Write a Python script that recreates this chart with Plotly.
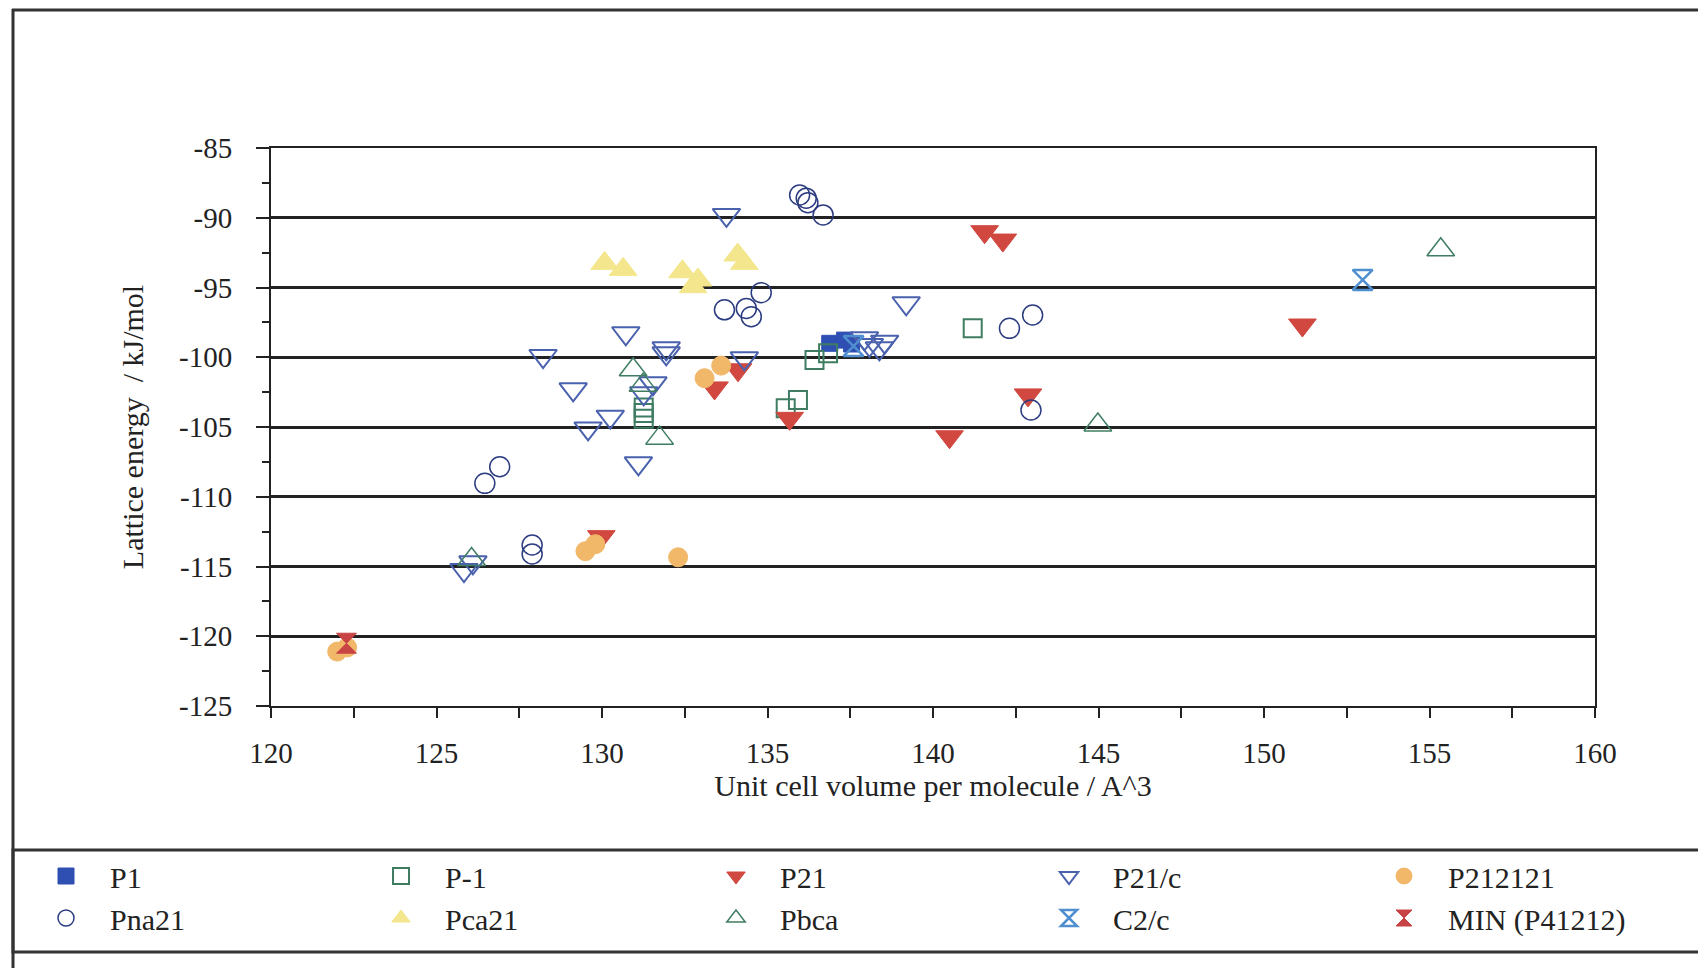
import plotly.graph_objects as go

# ---- data ----
P1_x = [136.88, 137.33, 137.54]
P1_y = [-99.0, -98.77, -99.05]

Pm1_x = [131.26, 131.26, 131.26, 135.55, 135.92, 136.42, 136.83, 141.2]
Pm1_y = [-103.6, -104.0, -104.4, -103.66, -103.06, -100.2, -99.72, -97.93]

P21_x = [129.98, 133.4, 134.11, 135.67, 140.5, 141.56, 142.11, 142.87, 151.16]
P21_y = [-112.86, -102.2, -100.9, -104.38, -105.7, -91.0, -91.6, -102.7, -97.69]

P21c_x = [125.83, 126.1, 128.22, 129.13, 129.58, 130.25, 130.72, 131.1, 131.26, 131.54,
          131.94, 131.94, 133.76, 134.3, 137.93, 138.08, 138.38, 138.54, 139.19]
P21c_y = [-115.25, -114.7, -99.91, -102.3, -105.1, -104.26, -98.28, -107.6, -102.58, -101.87,
          -99.36, -99.72, -89.8, -100.08, -98.64, -99.12, -99.36, -98.88, -96.13]

P212121_x = [122.0, 122.3, 129.5, 129.8, 132.3, 133.1, 133.6]
P212121_y = [-121.1, -120.8, -113.9, -113.4, -114.34, -101.5, -100.6]

Pna21_x = [126.46, 126.91, 127.89, 127.89, 133.7, 134.36, 134.51, 134.81, 135.97, 136.17,
           136.22, 136.68, 142.31, 142.96, 143.01]
Pna21_y = [-109.04, -107.85, -113.46, -114.1, -96.6, -96.5, -97.09, -95.37, -88.37, -88.6,
           -88.92, -89.8, -97.93, -103.78, -96.97]

Pca21_x = [130.08, 130.64, 132.43, 132.75, 132.9, 134.1, 134.3]
Pca21_y = [-93.27, -93.7, -93.87, -94.94, -94.46, -92.67, -93.27]

Pbca_x = [126.06, 130.94, 131.24, 131.74, 144.98, 155.34]
Pbca_y = [-114.5, -100.9, -102.0, -105.8, -104.86, -92.3]

C2c_x = [137.6, 152.98]
C2c_y = [-99.2, -94.46]

MIN_x = [122.28]
MIN_y = [-120.5]

x_ticks = [120, 125, 130, 135, 140, 145, 150, 155, 160]
x_labels = ["120", "125", "130", "135", "140", "145", "150", "155", "160"]
y_ticks = [-125, -120, -115, -110, -105, -100, -95, -90, -85]
y_labels = ["-125", "-120", "-115", "-110", "-105", "-100", "-95", "-90", "-85"]

FONT = "Liberation Serif"

# name, x, y, symbol, colour, size, line width, legend column
series = [
    ("P1", P1_x, P1_y, "square", "#2f4fb3", 16, 1, 0),
    ("P-1", Pm1_x, Pm1_y, "square-open", "#3f7d62", 18, 2, 1),
    ("P21", P21_x, P21_y, "triangle-down", "#d0483f", 24, 1, 2),
    ("P21/c", P21c_x, P21c_y, "triangle-down-open", "#4a62ad", 24, 2, 3),
    ("P212121", P212121_x, P212121_y, "circle", "#f2b86a", 19, 1, 4),
    ("Pna21", Pna21_x, Pna21_y, "circle-open", "#2c3c80", 20, 1.5, 0),
    ("Pca21", Pca21_x, Pca21_y, "triangle-up", "#f4e68c", 24, 1, 1),
    ("Pbca", Pbca_x, Pbca_y, "triangle-up-open", "#3f7d62", 24, 1.5, 2),
    ("C2/c", C2c_x, C2c_y, "hourglass-open", "#4f8fd0", 20, 2.5, 3),
    ("MIN (P41212)", MIN_x, MIN_y, "hourglass", "#c84444", 20, 1, 4),
]

legend_ids = ["legend", "legend2", "legend3", "legend4", "legend5"]

fig = go.Figure()
for name, xs, ys, sym, col, size, lw, colidx in series:
    fig.add_trace(go.Scatter(
        x=xs, y=ys, mode="markers", name=name, legend=legend_ids[colidx],
        marker=dict(symbol=sym, color=col, size=size,
                    line=dict(color=col, width=lw)),
    ))

# page body has an 8px margin: positions below are in figure coordinates
W, H = 1706, 968
OFF = 8
L, T = 271 - OFF, 148 - OFF
R = W - (1595 - OFF)
B = H - (706 - OFF)
PW, PH = W - L - R, H - T - B


def px(xp):
    return (xp - L) / PW


def py(yp):
    return (H - B - yp) / PH


legend_left = [14, 349, 684, 1017, 1352]
legends = {}
for lid, lx in zip(legend_ids, legend_left):
    legends[lid] = dict(
        orientation="v", x=px(lx), xanchor="left", y=py(842), yanchor="top",
        itemwidth=78, font=dict(family=FONT, size=30, color="#222"),
        bgcolor="rgba(0,0,0,0)", tracegroupgap=0,
    )

fig.update_layout(
    width=W, height=H,
    margin=dict(l=L, r=R, t=T, b=B),
    paper_bgcolor="white", plot_bgcolor="white",
    font=dict(family=FONT, size=29, color="#222"),
    showlegend=True,
    **legends,
    xaxis=dict(
        range=[120, 160], tickvals=x_ticks, ticktext=x_labels, ticks="outside", ticklen=10,
        tickwidth=2, tickcolor="#222", showline=True, linecolor="#222", linewidth=2,
        mirror=True, showgrid=False, zeroline=False, ticklabelstandoff=10, automargin=False,
        minor=dict(dtick=2.5, ticks="outside", ticklen=10, tickwidth=2, tickcolor="#222"),
        title=dict(text="Unit cell volume per molecule / A^3", font=dict(family=FONT, size=30),
                   standoff=4),
    ),
    yaxis=dict(
        range=[-125, -85], tickvals=y_ticks, ticktext=y_labels, ticks="outside", ticklen=13,
        tickwidth=2, tickcolor="#222", showline=True, linecolor="#222", linewidth=2,
        mirror=True, showgrid=True, gridcolor="#222", gridwidth=2.5, zeroline=False,
        ticklabelstandoff=18, automargin=False,
        minor=dict(dtick=2.5, ticks="outside", ticklen=7, tickwidth=2, tickcolor="#222",
                   showgrid=False),
        title=dict(text="Lattice energy  / kJ/mol", font=dict(family=FONT, size=30),
                   standoff=27),
    ),
    shapes=[
        # outer frame
        dict(type="line", xref="paper", yref="paper", x0=px(12 - OFF), x1=px(1712),
             y0=py(9 - OFF + 1), y1=py(9 - OFF + 1), line=dict(color="#333", width=3)),
        dict(type="line", xref="paper", yref="paper", x0=px(12 - OFF + 1), x1=px(12 - OFF + 1),
             y0=py(9 - OFF), y1=py(970), line=dict(color="#333", width=3)),
        # legend box
        dict(type="rect", xref="paper", yref="paper", x0=px(12 - OFF + 1), x1=px(1712),
             y0=py(850 - OFF), y1=py(952 - OFF), line=dict(color="#333", width=3)),
    ],
)

fig.write_html("out.html")
